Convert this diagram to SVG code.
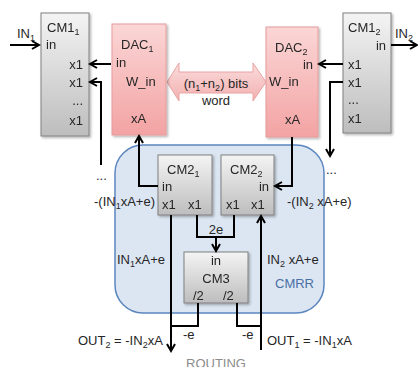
<svg xmlns="http://www.w3.org/2000/svg" width="418" height="367" viewBox="0 0 418 367">
<defs>
<linearGradient id="gGray" x1="0" y1="0" x2="0" y2="1">
<stop offset="0" stop-color="#f4f4f4"/><stop offset="1" stop-color="#bdbdbd"/>
</linearGradient>
<linearGradient id="gPink" x1="0" y1="0" x2="0" y2="1">
<stop offset="0" stop-color="#fbd6d6"/><stop offset="1" stop-color="#f3a3a3"/>
</linearGradient>
<linearGradient id="gArrow" x1="0" y1="0" x2="0" y2="1">
<stop offset="0" stop-color="#fbdcdc"/><stop offset="1" stop-color="#f3b0b0"/>
</linearGradient>
<marker id="ah" markerWidth="10" markerHeight="10" refX="8" refY="5" orient="auto" markerUnits="userSpaceOnUse">
<path d="M1,1 L8,5 L1,9" fill="none" stroke="#000" stroke-width="2"/>
</marker>
<filter id="sh" x="-10%" y="-10%" width="130%" height="130%">
<feDropShadow dx="1.5" dy="1.5" stdDeviation="1" flood-color="#000" flood-opacity="0.3"/>
</filter>
</defs>
<style>
text{font-family:"Liberation Sans",Arial,sans-serif;font-size:13px;fill:#262626}
.sub{font-size:9px}
.gray{fill:url(#gGray);stroke:#808080;stroke-width:1}
.pink{fill:url(#gPink);stroke:#e59c9c;stroke-width:1}
.c{fill:none;stroke:#000;stroke-width:2}
.a{marker-end:url(#ah)}
.mid{text-anchor:middle}
.end{text-anchor:end}
</style>
<g id="cmrr">
<rect x="115" y="145" width="209" height="168" rx="28" fill="#dce6f3" stroke="#5b86be" stroke-width="1.5"/>
<text x="275" y="288" style="fill:#4a6fa5">CMRR</text>
</g>
<g id="word">
<path d="M167,82 L179,63 L179,72 L253,72 L253,63 L266,82 L253,101 L253,93 L179,93 L179,101 Z" fill="url(#gArrow)" stroke="#e8a4a4" stroke-width="1"/>
<text x="216" y="88" class="mid">(n<tspan class="sub" dy="3">1</tspan><tspan dy="-3">+n</tspan><tspan class="sub" dy="3">2</tspan><tspan dy="-3">) bits</tspan></text>
<text x="216" y="105" class="mid">word</text>
</g>
<g id="cm1_1" filter="url(#sh)">
<rect x="41" y="13" width="48" height="123" class="gray"/>
<text x="47" y="32">CM1<tspan class="sub" dy="3">1</tspan></text>
<text x="46" y="49">in</text>
<text x="83" y="69" class="end">x1</text>
<text x="83" y="87" class="end">x1</text>
<text x="83" y="105" class="end">...</text>
<text x="83" y="125" class="end">x1</text>
</g>
<g id="dac1" filter="url(#sh)">
<rect x="112" y="24" width="54" height="111" class="pink"/>
<text x="121" y="49">DAC<tspan class="sub" dy="3">1</tspan></text>
<text x="116" y="67">in</text>
<text x="126" y="86">W_in</text>
<text x="131" y="123">xA</text>
</g>
<g id="dac2" filter="url(#sh)">
<rect x="266" y="27" width="52" height="110" class="pink"/>
<text x="275" y="52">DAC<tspan class="sub" dy="3">2</tspan></text>
<text x="313" y="69" class="end">in</text>
<text x="269" y="86">W_in</text>
<text x="285" y="124">xA</text>
</g>
<g id="cm1_2" filter="url(#sh)">
<rect x="343" y="13" width="48" height="120" class="gray"/>
<text x="348" y="32">CM1<tspan class="sub" dy="3">2</tspan></text>
<text x="386" y="50" class="end">in</text>
<text x="348" y="69">x1</text>
<text x="348" y="87">x1</text>
<text x="348" y="104">...</text>
<text x="348" y="123">x1</text>
</g>
<g id="cm2_1" filter="url(#sh)">
<rect x="158" y="155" width="54" height="60" class="gray"/>
<text x="167" y="174">CM2<tspan class="sub" dy="3">1</tspan></text>
<text x="162" y="191">in</text>
<text x="162" y="209">x1</text>
<text x="188" y="209">x1</text>
</g>
<g id="cm2_2" filter="url(#sh)">
<rect x="221" y="155" width="53" height="60" class="gray"/>
<text x="230" y="174">CM2<tspan class="sub" dy="3">2</tspan></text>
<text x="269" y="191" class="end">in</text>
<text x="226" y="209">x1</text>
<text x="251" y="209">x1</text>
</g>
<g id="cm3" filter="url(#sh)">
<rect x="184" y="252" width="64" height="51" class="gray"/>
<text x="216" y="265" class="mid">in</text>
<text x="216" y="283" class="mid">CM3</text>
<text x="193" y="300">/2</text>
<text x="223" y="300">/2</text>
</g>
<g id="connectors">
<path class="c a" d="M10,45 H39"/>
<path class="c a" d="M111,64 H90"/>
<path class="c a" d="M101,165 V82 H90"/>
<path class="c a" d="M343,64 H319"/>
<path class="c a" d="M343,82 H330 V156"/>
<path class="c a" d="M391,45 H417"/>
<path class="c a" d="M158,186 H139 V136"/>
<path class="c a" d="M292,137 V186 H275"/>
<path class="c a" d="M171,215 V351"/>
<path class="c" d="M197,215 V237 H234 V215"/>
<path class="c a" d="M216,237 V251"/>
<path class="c a" d="M261,350 V216"/>
<path class="c" d="M198,303 V326 H171"/>
<path class="c" d="M237,303 V326 H261"/>
</g>
<g id="labels">
<text x="17" y="38">IN<tspan class="sub" dy="3">1</tspan></text>
<text x="395" y="38">IN<tspan class="sub" dy="3">2</tspan></text>
<text x="96" y="180">...</text>
<text x="326" y="174">...</text>
<text x="94" y="206">-(IN<tspan class="sub" dy="3">1</tspan><tspan dy="-3">xA+e)</tspan></text>
<text x="287" y="206">-(IN<tspan class="sub" dy="3">2</tspan><tspan dy="-3"> xA+e)</tspan></text>
<text x="216" y="234" class="mid">2e</text>
<text x="117" y="264">IN<tspan class="sub" dy="3">1</tspan><tspan dy="-3">xA+e</tspan></text>
<text x="267" y="264">IN<tspan class="sub" dy="3">2</tspan><tspan dy="-3"> xA+e</tspan></text>
<text x="183" y="339">-e</text>
<text x="242" y="339">-e</text>
<text x="78" y="345">OUT<tspan class="sub" dy="3">2</tspan><tspan dy="-3"> = -IN</tspan><tspan class="sub" dy="3">2</tspan><tspan dy="-3">xA</tspan></text>
<text x="267" y="345">OUT<tspan class="sub" dy="3">1</tspan><tspan dy="-3"> = -IN</tspan><tspan class="sub" dy="3">1</tspan><tspan dy="-3">xA</tspan></text>
<text x="216" y="368" class="mid" style="fill:#8c8c8c">ROUTING</text>
</g>
</svg>
